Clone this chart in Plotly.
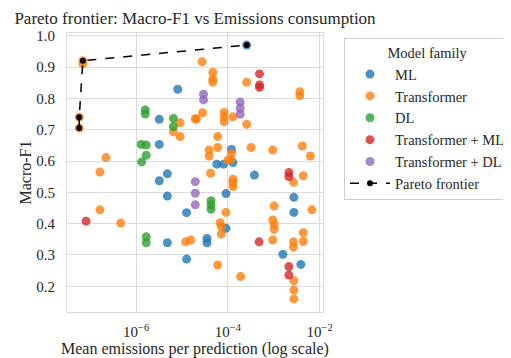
import plotly.graph_objects as go

# ---- data ----
ml_x = [2.57e-4, 8.1e-6, 3.2e-6, 3.2e-6, 4.8e-6, 3.2e-6, 4.8e-6, 1.26e-5, 4.8e-6, 1.26e-5,
        1.2e-4, 5.75e-5, 8.1e-5, 1.29e-4, 3.8e-4, 9.1e-5, 2.75e-3, 2.75e-3, 9.1e-5, 3.5e-5,
        3.5e-5, 1.58e-3, 3.9e-3]
ml_y = [0.97, 0.829, 0.733, 0.653, 0.559, 0.537, 0.488, 0.435, 0.339, 0.287,
        0.637, 0.590, 0.590, 0.595, 0.555, 0.496, 0.484, 0.436, 0.385, 0.353,
        0.339, 0.302, 0.270]

tr_x = [6.9e-8, 6.9e-8, 5.75e-8, 5.75e-8, 9.1e-6, 1.95e-5, 6.5e-6, 9.1e-6, 2.75e-5, 2.2e-7,
        1.62e-7, 1.62e-7, 4.6e-7, 1.2e-5, 1.55e-5, 4.7e-5, 4.7e-5, 4.7e-5, 2.57e-4, 3.7e-3,
        3.7e-3, 2.8e-5, 2.05e-5, 8.3e-5, 8.3e-5, 8.3e-5, 1.29e-4, 2.57e-4, 6.0e-5, 6.0e-5,
        3.9e-5, 3.9e-5, 1.2e-4, 3.2e-4, 9.5e-4, 4.2e-3, 6.3e-3, 1.0e-4, 1.17e-4, 4.2e-5,
        4.4e-3, 1.29e-4, 1.29e-4, 1.29e-4, 2.7e-3, 9.1e-5, 1.02e-3, 6.8e-3, 6.8e-5, 7.2e-5,
        7.2e-5, 9.5e-4, 1.02e-3, 1.02e-3, 9.5e-4, 4.4e-3, 2.7e-3, 2.7e-3, 4.4e-3, 6.0e-5,
        1.9e-4, 2.75e-3, 2.75e-3, 2.75e-3]
tr_y = [0.92, 0.91, 0.74, 0.705, 0.722, 0.735, 0.693, 0.678, 0.917, 0.611,
        0.565, 0.444, 0.402, 0.342, 0.348, 0.883, 0.861, 0.851, 0.851, 0.821,
        0.808, 0.754, 0.734, 0.755, 0.741, 0.725, 0.741, 0.717, 0.678, 0.643,
        0.635, 0.616, 0.625, 0.643, 0.635, 0.648, 0.616, 0.603, 0.605, 0.561,
        0.553, 0.542, 0.531, 0.518, 0.532, 0.436, 0.456, 0.444, 0.403, 0.390,
        0.367, 0.412, 0.398, 0.382, 0.348, 0.371, 0.342, 0.325, 0.343, 0.268,
        0.231, 0.218, 0.188, 0.160]

dl_x = [1.58e-6, 1.58e-6, 6.5e-6, 6.5e-6, 1.29e-6, 1.66e-6, 1.66e-6, 1.32e-6, 1.66e-6, 1.66e-6,
        4.3e-5, 4.3e-5, 4.3e-5]
dl_y = [0.763, 0.75, 0.736, 0.710, 0.653, 0.651, 0.618, 0.597, 0.358, 0.339,
        0.473, 0.460, 0.446]

trml_x = [4.9e-4, 4.9e-4, 4.9e-4, 8.1e-8, 2.14e-3, 2.14e-3, 4.8e-4, 2.14e-3, 2.14e-3]
trml_y = [0.878, 0.843, 0.835, 0.408, 0.563, 0.550, 0.342, 0.263, 0.236]

trdl_x = [2.95e-5, 2.95e-5, 1.86e-4, 1.86e-4, 1.86e-4, 1.95e-5, 1.95e-5, 1.95e-5]
trdl_y = [0.813, 0.795, 0.788, 0.768, 0.749, 0.534, 0.497, 0.460]

pareto_x = [5.75e-8, 5.75e-8, 6.9e-8, 2.57e-4]
pareto_y = [0.705, 0.74, 0.92, 0.97]

families = ["ML", "Transformer", "DL", "Transformer + ML", "Transformer + DL"]
colors = ["#1f77b4", "#ff7f0e", "#2ca02c", "#d62728", "#9467bd"]
xs = [ml_x, tr_x, dl_x, trml_x, trdl_x]
ys = [ml_y, tr_y, dl_y, trml_y, trdl_y]

y_ticks = [0.2, 0.3, 0.4, 0.5, 0.6, 0.7, 0.8, 0.9, 1.0]
x_ticks = [1e-6, 1e-4, 1e-2]
x_tick_text = ["10<sup>\u22126</sup>", "10<sup>\u22124</sup>", "10<sup>\u22122</sup>"]

FONT = "Liberation Serif"
TXT = "#262626"
W, H = 503, 350  # page body has an 8px default margin; figure fills the rest
fig = go.Figure()
for name, c, x, y in zip(families, colors, xs, ys):
    fig.add_trace(go.Scatter(x=x, y=y, mode="markers", name=name,
                             marker=dict(color=c, size=9, opacity=0.8, line=dict(width=0))))
fig.add_trace(go.Scatter(x=pareto_x, y=pareto_y, mode="lines+markers", name="Pareto frontier",
                         line=dict(color="black", width=1.5, dash="dash"),
                         marker=dict(color="black", size=6)))

fig.update_layout(
    width=W, height=H,
    margin=dict(l=59, r=188, t=25, b=46, autoexpand=False),
    paper_bgcolor="white", plot_bgcolor="white",
    font=dict(family=FONT, size=15, color=TXT),
    title=dict(text="Pareto frontier: Macro-F1 vs Emissions consumption",
               x=187 / W, xanchor="center", y=1 - 10 / H, yanchor="middle",
               font=dict(size=17, color=TXT)),
    legend=dict(x=1.082, y=0.981, xanchor="left", yanchor="top",
                title=dict(text="Model family", side="top center", font=dict(size=14.5)),
                bordercolor="#cccccc", borderwidth=1, font=dict(size=14.5),
                itemwidth=40),
    annotations=[dict(text="Mean emissions per prediction (log scale)",
                      xref="paper", yref="paper", x=0.5, y=(312 - 349) / 279,
                      xanchor="center", yanchor="middle", showarrow=False,
                      font=dict(size=16, color=TXT))],
    xaxis=dict(type="log", range=[-7.507, -1.926], tickvals=x_ticks, ticktext=x_tick_text,
               showgrid=True, gridcolor="#dcdcdc", gridwidth=1, zeroline=False,
               showline=True, linecolor="#dcdcdc", mirror=True, ticks="",
               ticklabelstandoff=6, tickfont=dict(size=15)),
    yaxis=dict(range=[0.118, 1.0086], tickvals=y_ticks,
               ticktext=[f"{v:.1f}" for v in y_ticks],
               showgrid=True, gridcolor="#dcdcdc", gridwidth=1, zeroline=False,
               showline=True, linecolor="#dcdcdc", mirror=True, ticks="",
               ticklabelstandoff=8,
               title=dict(text="Macro-F1", standoff=0, font=dict(size=16)),
               tickfont=dict(size=15)),
)
fig.write_html("out.html")
